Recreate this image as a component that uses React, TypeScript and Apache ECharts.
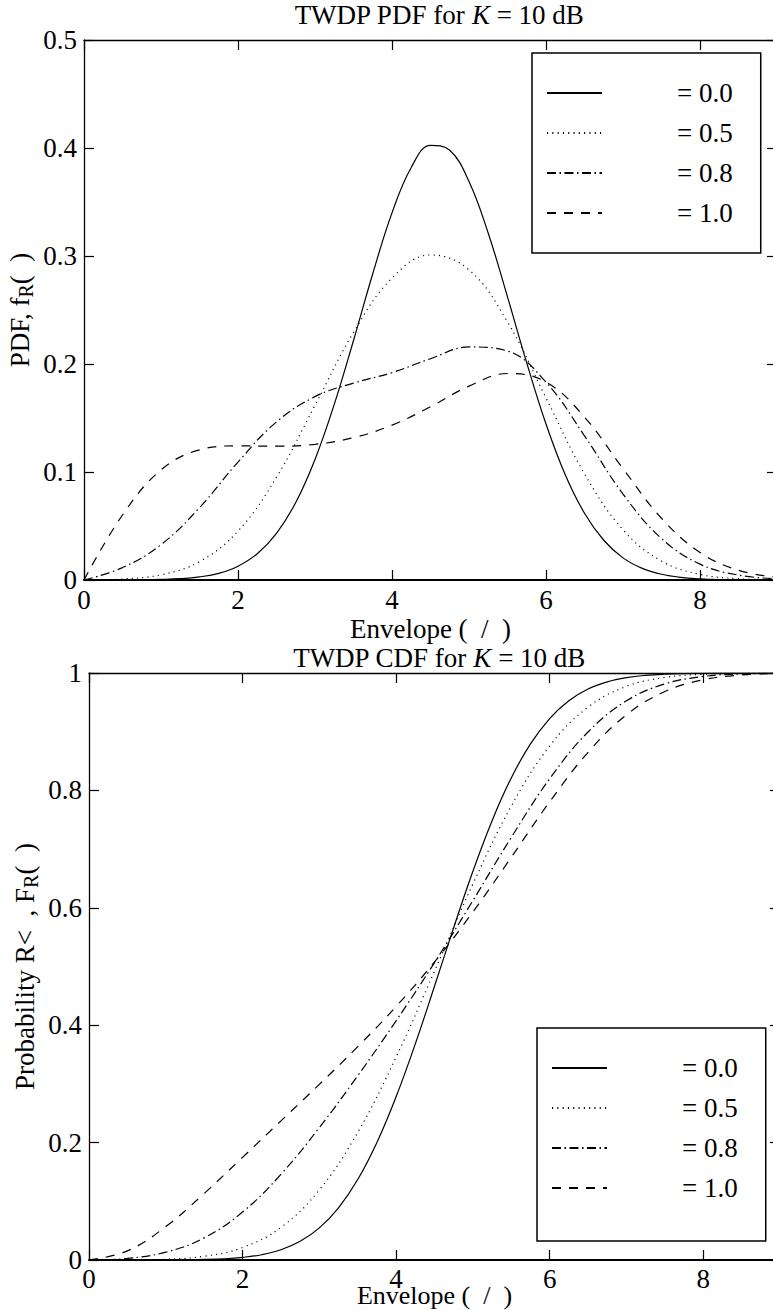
import React, { useEffect, useRef } from 'react';
import * as echarts from 'echarts';

const FONT = "'Liberation Serif', 'Times New Roman', Times, serif";

// Envelope grid (x values)
const R_FINE = [0, 0.25, 0.5, 0.75, 1, 1.25, 1.5, 1.75, 2, 2.25, 2.5, 2.75, 3, 3.25, 3.5, 3.75, 4, 4.25, 4.5, 4.75, 5, 5.25, 5.5, 5.75, 6, 6.25, 6.5, 6.75, 7, 7.25, 7.5, 7.75, 8, 8.25, 8.5, 8.75, 9];
const R_COARSE = [0, 0.5, 1, 1.5, 2, 2.5, 3, 3.5, 4, 4.5, 5, 5.5, 6, 6.5, 7, 7.5, 8, 8.5, 9];

// PDF values
const PDF_D00 = [0, 0, 0.0001, 0.0002, 0.0005, 0.0012, 0.0029, 0.0062, 0.0128, 0.0243, 0.0432, 0.0718, 0.1116, 0.1626, 0.2218, 0.2836, 0.3399, 0.382, 0.4025, 0.3979, 0.369, 0.3211, 0.2621, 0.201, 0.1445, 0.0975, 0.0618, 0.0368, 0.0205, 0.0108, 0.0053, 0.0024, 0.0011, 0.0004, 0.0002, 0.0001, 0];
const PDF_D05 = [0, 0.001, 0.0048, 0.017, 0.0453, 0.0952, 0.1617, 0.2292, 0.2795, 0.301, 0.2872, 0.2389, 0.1686, 0.0983, 0.0465, 0.0175, 0.0052, 0.0012, 0.0002];
const PDF_D08 = [0, 0.0115, 0.0327, 0.067, 0.1092, 0.1464, 0.1698, 0.1823, 0.192, 0.2049, 0.2158, 0.212, 0.1832, 0.1335, 0.0796, 0.0384, 0.0147, 0.0045, 0.0011];
const PDF_D10 = [0, 0.0602, 0.1019, 0.1205, 0.1242, 0.1239, 0.1256, 0.1318, 0.1434, 0.1604, 0.1795, 0.1912, 0.1833, 0.1508, 0.1031, 0.0572, 0.0255, 0.009, 0.0025];

// CDF values
const CDF_D00 = [0, 0, 0, 0.0001, 0.0001, 0.0004, 0.0009, 0.002, 0.0044, 0.009, 0.0174, 0.0318, 0.0548, 0.089, 0.1371, 0.2003, 0.2782, 0.3682, 0.4663, 0.5663, 0.6622, 0.7484, 0.8213, 0.8792, 0.9224, 0.9527, 0.9726, 0.9849, 0.9921, 0.996, 0.998, 0.999, 0.9995, 0.9997, 0.9998, 0.9999, 1];
const CDF_D05 = [0, 0.0002, 0.0014, 0.0064, 0.0212, 0.0555, 0.1194, 0.2174, 0.3456, 0.492, 0.6405, 0.7732, 0.8756, 0.9419, 0.9772, 0.9924, 0.9978, 0.9995, 1];
const CDF_D08 = [0, 0.0027, 0.0133, 0.0377, 0.0817, 0.146, 0.2256, 0.3139, 0.4075, 0.5067, 0.6122, 0.72, 0.8198, 0.8995, 0.9526, 0.9814, 0.9941, 0.9984, 0.9997];
const CDF_D10 = [0, 0.0155, 0.0569, 0.1133, 0.1749, 0.237, 0.2992, 0.3634, 0.4319, 0.5077, 0.5928, 0.686, 0.7806, 0.8649, 0.9287, 0.9684, 0.9885, 0.9966, 0.9993];

const LEGEND_NAMES = ['= 0.0', '= 0.5', '= 0.8', '= 1.0'];
const LINE_TYPES: any[] = ['solid', [1.1, 4.2], [9, 3.5, 1.5, 3.5], [9, 8]];

const PDF_TITLE = '{n|TWDP PDF for }{i|K}{n| = 10 dB}';
const CDF_TITLE = '{n|TWDP CDF for }{i|K}{n| = 10 dB}';
const X_NAME = 'Envelope (\u00a0\u00a0/\u00a0\u00a0)';
const PDF_Y_NAME = '{a|PDF, f}{s|R}{a|(\u00a0\u00a0)}';
const CDF_Y_NAME = '{a|Probability R<\u00a0\u00a0, F}{s|R}{a|(\u00a0\u00a0)}';

const pairs = (xs: number[], ys: number[]) => xs.map((x, i) => [x, ys[i]]);

const titleRich = {
  n: { fontSize: 27, lineHeight: 27, fontFamily: FONT, fill: '#000', color: '#000' },
  i: { fontSize: 27, lineHeight: 27, fontFamily: FONT, fontStyle: 'italic', fill: '#000', color: '#000' },
};

const nameRich = {
  a: { fontSize: 27, fontFamily: FONT, color: '#000' },
  s: { fontSize: 20, fontFamily: FONT, color: '#000', padding: [12, 0, 0, 0] },
};

function xAxesFor(grid: number, labelMargin: number, nameGap: number, nameSize: number) {
  return [
    {
      gridIndex: grid, type: 'value', min: 0, max: 9, interval: 2, position: 'bottom',
      axisLine: { onZero: false, lineStyle: { color: '#000', width: 2 } },
      axisTick: { inside: true, length: 10, lineStyle: { color: '#000', width: 1.2 } },
      axisLabel: { color: '#000', fontSize: 27, lineHeight: 20, fontFamily: FONT, margin: labelMargin, formatter: (v: number) => (v === 9 ? '' : String(v)) },
      splitLine: { show: false },
      name: X_NAME, nameLocation: 'middle', nameGap, nameMoveOverlap: false,
      nameTextStyle: { color: '#000', fontSize: nameSize, lineHeight: 20, fontFamily: FONT },
    },
    {
      gridIndex: grid, type: 'value', min: 0, max: 9, interval: 2, position: 'top',
      axisLine: { onZero: false, lineStyle: { color: '#000', width: 1.3 } },
      axisTick: { inside: true, length: 10, lineStyle: { color: '#000', width: 1.2 } },
      axisLabel: { show: false }, splitLine: { show: false },
    },
  ];
}

function yAxesFor(grid: number, max: number, interval: number, name: string) {
  return [
    {
      gridIndex: grid, type: 'value', min: 0, max, interval, position: 'left',
      axisLine: { onZero: false, lineStyle: { color: '#000', width: 1.3 } },
      axisTick: { inside: true, length: 10, lineStyle: { color: '#000', width: 1.2 } },
      axisLabel: { color: '#000', fontSize: 27, fontFamily: FONT, margin: 7 },
      splitLine: { show: false },
      name, nameLocation: 'middle', nameGap: 48, nameRotate: 90, nameMoveOverlap: false,
      nameTextStyle: { color: '#000', fontSize: 27, fontFamily: FONT, rich: nameRich },
    },
    {
      gridIndex: grid, type: 'value', min: 0, max, interval, position: 'right',
      axisLine: { onZero: false, lineStyle: { color: '#000', width: 1.3 } },
      axisTick: { inside: true, length: 10, lineStyle: { color: '#000', width: 1.2 } },
      axisLabel: { show: false }, splitLine: { show: false },
    },
  ];
}

function seriesFor(axisIndex: number, sets: { xs: number[]; ys: number[] }[]) {
  return sets.map((s, i) => ({
    type: 'line',
    name: LEGEND_NAMES[i],
    xAxisIndex: axisIndex,
    yAxisIndex: axisIndex,
    data: pairs(s.xs, s.ys),
    symbol: 'none',
    showSymbol: false,
    smooth: 0.4,
    silent: true,
    lineStyle: { color: '#000', width: 1.2, type: LINE_TYPES[i] },
    itemStyle: { color: '#000' },
    emphasis: { disabled: true },
  }));
}

function legendAt(left: number, top: number, padding: number[]) {
  return {
    orient: 'vertical', left, top, padding,
    itemWidth: 55, itemHeight: 14, itemGap: 12,
    borderColor: '#000', borderWidth: 1.5, backgroundColor: '#fff',
    selectedMode: false,
    itemStyle: { opacity: 0 },
    data: LEGEND_NAMES,
    textStyle: { color: '#000', fontSize: 27, fontFamily: FONT, lineHeight: 28, padding: [0, 0, 0, 70] },
  };
}

export default function App() {
  const ref = useRef<HTMLDivElement>(null);
  useEffect(() => {
    if (!ref.current) return;
    const chart = echarts.init(ref.current, undefined, { renderer: 'svg' });
    const option: any = {
      animation: false,
      backgroundColor: '#fff',
      grid: [
        { left: 84, right: -4, top: 40, height: 540, containLabel: false, outerBoundsMode: 'none' },
        { left: 89, right: -7, top: 673, height: 587, containLabel: false, outerBoundsMode: 'none' },
      ],
      xAxis: [...xAxesFor(0, 10, 39, 27), ...xAxesFor(1, 9, 25, 26)],
      yAxis: [...yAxesFor(0, 0.5, 0.1, PDF_Y_NAME), ...yAxesFor(1, 1, 0.2, CDF_Y_NAME)],
      legend: [legendAt(532, 53, [26, 28, 26, 14]), legendAt(537, 1028, [26, 28, 39, 14])],
      graphic: [
        { type: 'text', x: 439, y: 15, silent: true, style: { text: PDF_TITLE, rich: titleRich, align: 'center', verticalAlign: 'middle', textAlign: 'center', textVerticalAlign: 'middle' } },
        { type: 'text', x: 439, y: 658, silent: true, style: { text: CDF_TITLE, rich: titleRich, align: 'center', verticalAlign: 'middle', textAlign: 'center', textVerticalAlign: 'middle' } },
      ],
      series: [
        ...seriesFor(0, [
          { xs: R_FINE, ys: PDF_D00 },
          { xs: R_COARSE, ys: PDF_D05 },
          { xs: R_COARSE, ys: PDF_D08 },
          { xs: R_COARSE, ys: PDF_D10 },
        ]),
        ...seriesFor(2, [
          { xs: R_FINE, ys: CDF_D00 },
          { xs: R_COARSE, ys: CDF_D05 },
          { xs: R_COARSE, ys: CDF_D08 },
          { xs: R_COARSE, ys: CDF_D10 },
        ]),
      ],
    };
    chart.setOption(option);
    return () => chart.dispose();
  }, []);
  return <div ref={ref} style={{ position: 'absolute', left: 0, top: 0, width: 773, height: 1310, background: '#fff' }} />;
}
